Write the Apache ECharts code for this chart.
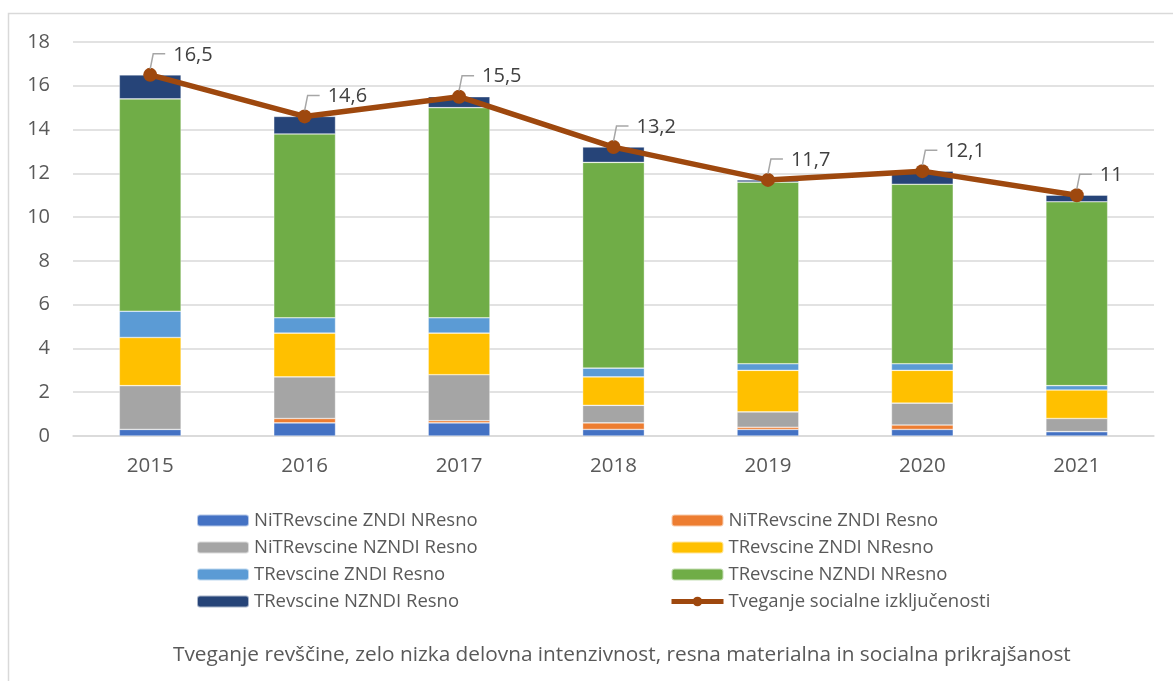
<!DOCTYPE html>
<html>
<head>
<meta charset="utf-8">
<script src="https://cdn.jsdelivr.net/npm/echarts@6/dist/echarts.min.js"></script>
<style>
  html, body { margin: 0; padding: 0; background: #fff; }
  #chart { width: 1173px; height: 681px; }
</style>
</head>
<body>
<div id="chart"></div>
<script>
const years = ['2015', '2016', '2017', '2018', '2019', '2020', '2021'];

const nitZndiNresno = [0.3, 0.6, 0.6, 0.3, 0.3, 0.3, 0.2];
const nitZndiResno = [0, 0.2, 0.1, 0.3, 0.1, 0.2, 0];
const nitNzndiResno = [2.0, 1.9, 2.1, 0.8, 0.7, 1.0, 0.6];
const tZndiNresno = [2.2, 2.0, 1.9, 1.3, 1.9, 1.5, 1.3];
const tZndiResno = [1.2, 0.7, 0.7, 0.4, 0.3, 0.3, 0.2];
const tNzndiNresno = [9.7, 8.4, 9.6, 9.4, 8.3, 8.2, 8.4];
const tNzndiResno = [1.1, 0.8, 0.5, 0.7, 0.1, 0.6, 0.3];
const tveganje = [16.5, 14.6, 15.5, 13.2, 11.7, 12.1, 11];

const yTicks = { min: 0, max: 18, interval: 2 };

const barSeries = [
  { name: 'NiTRevscine ZNDI NResno', data: nitZndiNresno, color: '#4472C4' },
  { name: 'NiTRevscine ZNDI Resno', data: nitZndiResno, color: '#ED7D31' },
  { name: 'NiTRevscine NZNDI Resno', data: nitNzndiResno, color: '#A5A5A5' },
  { name: 'TRevscine ZNDI NResno', data: tZndiNresno, color: '#FFC000' },
  { name: 'TRevscine ZNDI Resno', data: tZndiResno, color: '#5B9BD5' },
  { name: 'TRevscine NZNDI NResno', data: tNzndiNresno, color: '#70AD47' },
  { name: 'TRevscine NZNDI Resno', data: tNzndiResno, color: '#264478' }
];
const lineName = 'Tveganje socialne izključenosti';

const fontFamily = '"Open Sans", sans-serif';
const textColor = '#595959';

function fmt(v) {
  return String(v).replace('.', ',');
}

// leader line + value label, placed from the line point
function renderLabel(params, api) {
  let p = api.coord([api.value(0), api.value(1)]);
  let x = p[0], y = p[1];
  return {
    type: 'group',
    children: [
      {
        type: 'polyline',
        shape: { points: [[x, y - 6], [x + 3, y - 21], [x + 15, y - 21]] },
        style: { stroke: '#A6A6A6', lineWidth: 1.5, fill: null }
      },
      {
        type: 'text',
        x: x + 23,
        y: y - 20,
        style: {
          text: fmt(api.value(1)),
          fontFamily: fontFamily,
          fontSize: 20,
          fill: '#404040',
          align: 'left',
          verticalAlign: 'middle'
        }
      }
    ]
  };
}

let series = [];
for (var s of barSeries) {
  series.push({
    name: s.name,
    type: 'bar',
    stack: 'total',
    barWidth: '40%',
    data: s.data,
    itemStyle: { color: s.color, borderColor: 'rgba(255,255,255,0.6)', borderWidth: 0.6 }
  });
}
series.push({
  name: lineName,
  type: 'line',
  data: tveganje,
  symbol: 'circle',
  symbolSize: 14,
  z: 5,
  lineStyle: { color: '#9E480E', width: 5.5 },
  itemStyle: { color: '#9E480E' }
});
series.push({
  type: 'custom',
  data: tveganje.map(function (v, i) { return [i, v]; }),
  renderItem: renderLabel,
  z: 6,
  silent: true
});

function legendData(idx) {
  return idx.map(function (i) {
    return i < barSeries.length ? barSeries[i].name : lineName;
  });
}

const legendBase = {
  orient: 'vertical',
  top: 502,
  itemWidth: 52,
  itemHeight: 12,
  itemGap: 0,
  selectedMode: false,
  lineStyle: { width: 5 },
  textStyle: { color: textColor, fontFamily: fontFamily, fontSize: 18.5, lineHeight: 27 }
};

let option = {
  animation: false,
  backgroundColor: '#fff',
  color: barSeries.map(function (s) { return s.color; }).concat(['#9E480E']),
  grid: { left: 73, right: 19, top: 42, bottom: 245 },
  title: {
    text: 'Tveganje revščine, zelo nizka delovna intenzivnost, resna materialna in socialna prikrajšanost',
    left: 168,
    top: 640,
    textStyle: { color: textColor, fontFamily: fontFamily, fontSize: 20.8, fontWeight: 'normal' }
  },
  legend: [
    Object.assign({}, legendBase, { left: 191, data: legendData([0, 2, 4, 6]) }),
    Object.assign({}, legendBase, { left: 664, data: legendData([1, 3, 5, 7]) })
  ],
  xAxis: {
    type: 'category',
    data: years,
    axisTick: { show: false },
    axisLine: { lineStyle: { color: '#D9D9D9', width: 1.5 } },
    axisLabel: { color: textColor, fontFamily: fontFamily, fontSize: 20.5, margin: 20 }
  },
  yAxis: {
    type: 'value',
    min: yTicks.min,
    max: yTicks.max,
    interval: yTicks.interval,
    axisLine: { show: false },
    axisTick: { show: false },
    splitLine: { lineStyle: { color: '#D9D9D9', width: 1.5 } },
    axisLabel: { color: textColor, fontFamily: fontFamily, fontSize: 20, margin: 23 }
  },
  graphic: [
    {
      type: 'rect',
      shape: { x: 8.5, y: 13.5, width: 1200, height: 700 },
      style: { fill: null, stroke: '#D9D9D9', lineWidth: 1.5 },
      z: -1
    }
  ],
  series: series
};

var myChart = echarts.init(document.getElementById('chart'));
myChart.setOption(option);
</script>
</body>
</html>
